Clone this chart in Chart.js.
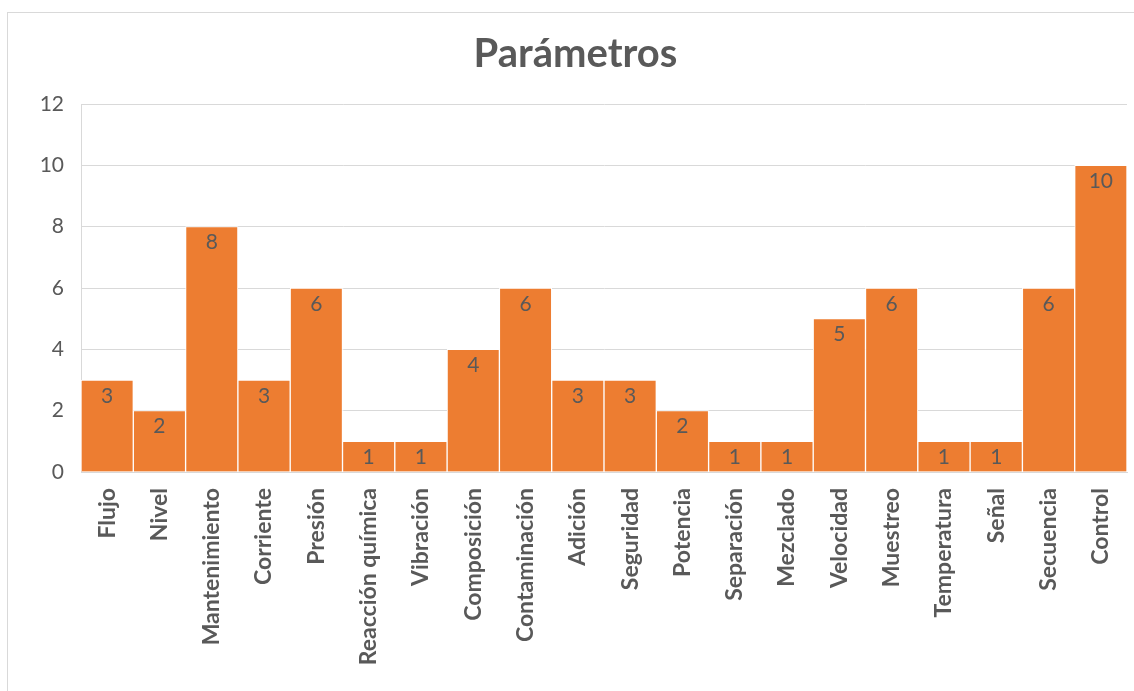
<!DOCTYPE html>
<html>
<head>
<meta charset="utf-8">
<script src="https://cdn.jsdelivr.net/npm/chart.js@4/dist/chart.umd.min.js"></script>
<style>
  html, body { margin: 0; padding: 0; background: #fff; overflow: hidden; }
  #frame { position: absolute; left: 7px; top: 12px; width: 1140px; height: 700px; border: 1px solid #d9d9d9; box-sizing: border-box; }
  #wrap { position: absolute; left: 0; top: 0; width: 1134px; height: 691px; }
</style>
</head>
<body>
<div id="frame"></div>
<div id="wrap"><canvas id="c" width="1134" height="691"></canvas></div>
<script>
const chartTitle = "Parámetros";
const categories = ["Flujo", "Nivel", "Mantenimiento", "Corriente", "Presión", "Reacción química", "Vibración", "Composición", "Contaminación", "Adición", "Seguridad", "Potencia", "Separación", "Mezclado", "Velocidad", "Muestreo", "Temperatura", "Señal", "Secuencia", "Control"];
const values = [3, 2, 8, 3, 6, 1, 1, 4, 6, 3, 3, 2, 1, 1, 5, 6, 1, 1, 6, 10];
const yTicks = [0, 2, 4, 6, 8, 10, 12];

const TEXT = "#595959";
const FONT = "Lato, 'Open Sans', sans-serif";

const labelPlugin = {
  id: "barLabels",
  afterDatasetsDraw(chart) {
    const ctx = chart.ctx;
    const meta = chart.getDatasetMeta(0);
    ctx.save();
    ctx.font = "21px " + FONT;
    ctx.fillStyle = TEXT;
    ctx.textAlign = "center";
    ctx.textBaseline = "middle";
    meta.data.forEach((bar, i) => {
      ctx.fillText(String(values[i]), bar.x, bar.y + 16);
    });
    ctx.restore();
  }
};

new Chart(document.getElementById("c"), {
  type: "bar",
  data: {
    labels: categories,
    datasets: [{
      data: values,
      backgroundColor: "#ED7D31",
      borderColor: "#ffffff",
      borderWidth: 1,
      borderSkipped: "bottom",
      categoryPercentage: 1.0,
      barPercentage: 1.0
    }]
  },
  options: {
    responsive: false,
    animation: false,
    layout: { padding: { top: 30, right: 7, left: 24, bottom: 0 } },
    plugins: {
      legend: { display: false },
      tooltip: { enabled: false },
      title: {
        display: true,
        text: chartTitle,
        color: TEXT,
        font: { family: FONT, size: 40, weight: "bold" },
        padding: { top: 0, bottom: 26 }
      }
    },
    scales: {
      x: {
        grid: { display: false, drawTicks: false },
        border: { display: true, color: "#d9d9d9", width: 1 },
        ticks: {
          color: TEXT,
          font: { family: FONT, size: 23, weight: "bold" },
          minRotation: 90,
          maxRotation: 90,
          autoSkip: false,
          padding: 16
        },
        afterFit(scale) {
          scale.height = 691 - 472;
          scale.paddingLeft = 0;
          scale.paddingRight = 0;
        }
      },
      y: {
        min: 0,
        max: 12,
        afterBuildTicks(scale) { scale.ticks = yTicks.map(v => ({ value: v })); },
        grid: { color: "#d9d9d9", lineWidth: 1, drawTicks: false },
        border: { display: true, color: "#d9d9d9", width: 1 },
        ticks: {
          color: TEXT,
          font: { family: FONT, size: 21 },
          padding: 17
        },
        afterFit(scale) { scale.width = 57; }
      }
    }
  },
  plugins: [labelPlugin]
});
</script>
</body>
</html>
